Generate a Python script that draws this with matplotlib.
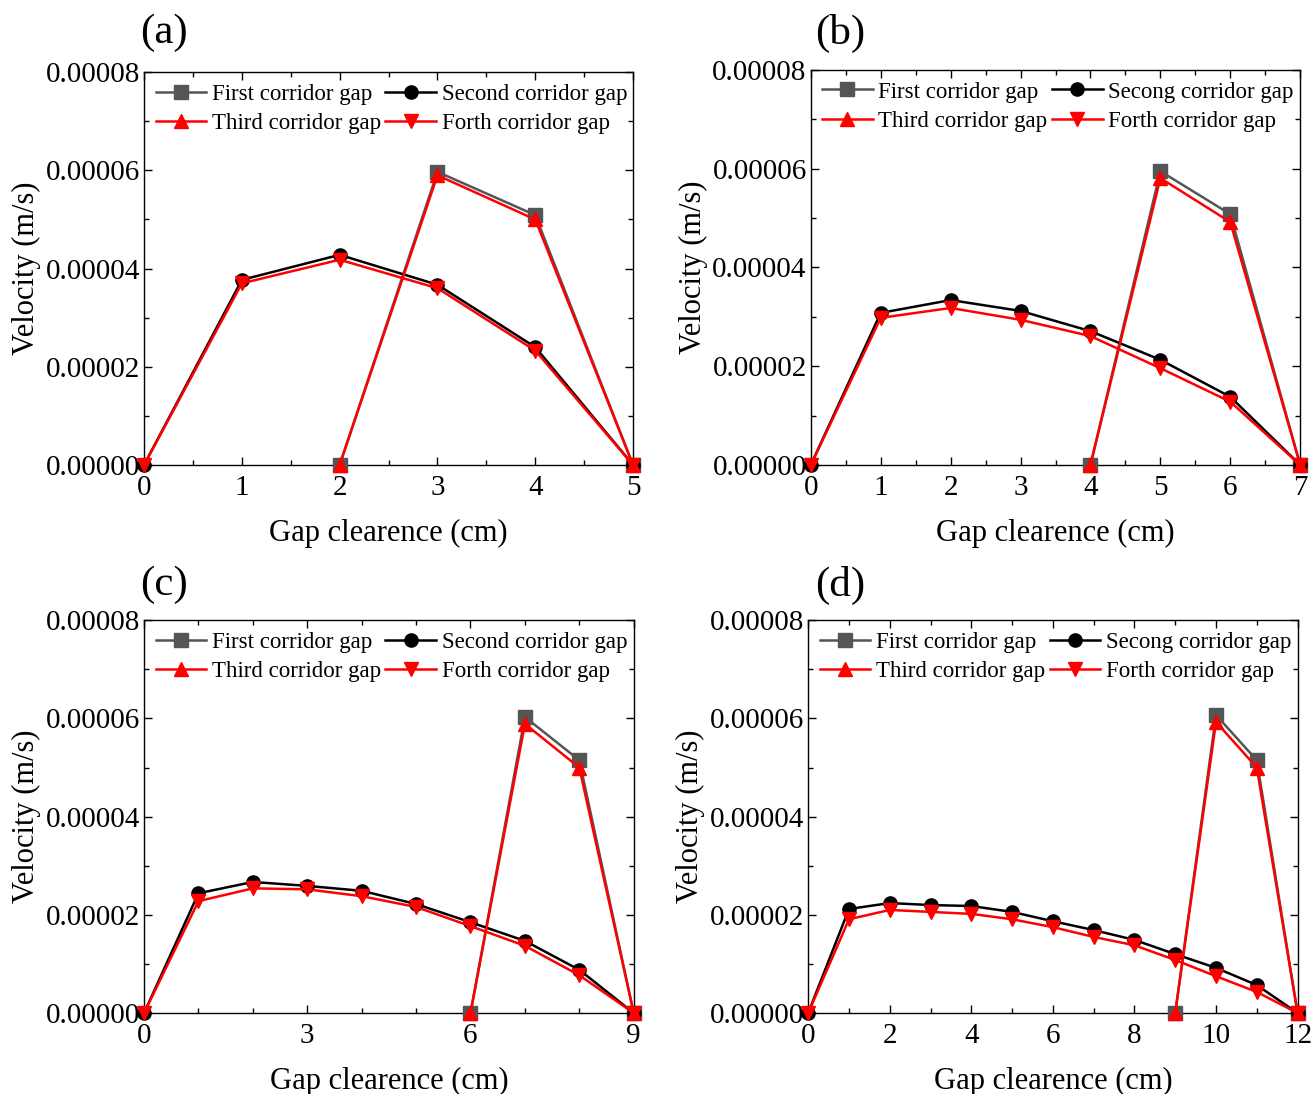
import numpy as np
import matplotlib
matplotlib.use('Agg')
import matplotlib.pyplot as plt
from matplotlib.ticker import MultipleLocator, FormatStrFormatter

plt.rcParams['font.family'] = ['Liberation Serif', 'DejaVu Serif']
plt.rcParams['mathtext.fontset'] = 'stix'

E = 1e-5
# ---------- data (units of 1e-5 m/s) ----------
# (a)
a_x_long = [0, 1, 2, 3, 4, 5]
a_second = [0, 3.77, 4.28, 3.67, 2.40, 0]
a_forth = [0, 3.70, 4.18, 3.60, 2.33, 0]
a_x_short = [2, 3, 4, 5]
a_first = [0, 5.97, 5.09, 0]
a_third = [0, 5.90, 5.00, 0]
# (b)
b_x_long = [0, 1, 2, 3, 4, 5, 6, 7]
b_second = [0, 3.08, 3.34, 3.12, 2.71, 2.13, 1.38, 0]
b_forth = [0, 2.98, 3.18, 2.94, 2.61, 1.96, 1.28, 0]
b_x_short = [4, 5, 6, 7]
b_first = [0, 5.95, 5.08, 0]
b_third = [0, 5.81, 4.92, 0]
# (c)
c_x_long = [0, 1, 2, 3, 4, 5, 6, 7, 8, 9]
c_second = [0, 2.44, 2.67, 2.59, 2.49, 2.22, 1.85, 1.47, 0.88, 0]
c_forth = [0, 2.28, 2.54, 2.52, 2.38, 2.16, 1.77, 1.37, 0.77, 0]
c_x_short = [6, 7, 8, 9]
c_first = [0, 6.03, 5.15, 0]
c_third = [0, 5.89, 5.00, 0]
# (d)
d_x_long = [0, 1, 2, 3, 4, 5, 6, 7, 8, 9, 10, 11, 12]
d_second = [0, 2.12, 2.24, 2.20, 2.18, 2.06, 1.87, 1.69, 1.49, 1.20, 0.92, 0.57, 0]
d_forth = [0, 1.91, 2.10, 2.06, 2.02, 1.91, 1.75, 1.55, 1.38, 1.08, 0.75, 0.43, 0]
d_x_short = [9, 10, 11, 12]
d_first = [0, 6.07, 5.15, 0]
d_third = [0, 5.93, 5.00, 0]

panels = [
    ('(a)', a_x_long, a_second, a_forth, a_x_short, a_first, a_third, 5, 1, 0.5, 'Second corridor gap'),
    ('(b)', b_x_long, b_second, b_forth, b_x_short, b_first, b_third, 7, 1, 0.5, 'Secong corridor gap'),
    ('(c)', c_x_long, c_second, c_forth, c_x_short, c_first, c_third, 9, 3, 1, 'Second corridor gap'),
    ('(d)', d_x_long, d_second, d_forth, d_x_short, d_first, d_third, 12, 2, 1, 'Secong corridor gap'),
]
rects = [
    [0.1098, 0.575, 0.3727, 0.359],
    [0.618, 0.575, 0.373, 0.361],
    [0.1098, 0.074, 0.3732, 0.359],
    [0.616, 0.074, 0.373, 0.359],
]
lab_pos = [(164, 33), (840, 33), (164, 585), (840, 585)]

W, H = 1312, 1094
fig = plt.figure(figsize=(W/100, H/100), dpi=100)
for (name, xl, sec, fo, xs, fi, th, xmax, xmaj, xmin, seclab), r, lp in zip(panels, rects, lab_pos):
    ax = fig.add_axes(r)
    ms = 9.5; lw = 1.8
    h1, = ax.plot(xs, np.array(fi)*E, '-s', color='#555555', mfc='#555555', mec='#555555', ms=ms, lw=lw, label='First corridor gap', clip_on=False, zorder=3)
    h2, = ax.plot(xl, np.array(sec)*E, '-o', color='black', ms=ms, lw=lw, label=seclab, clip_on=False, zorder=3)
    h3, = ax.plot(xs, np.array(th)*E, '-^', color='red', ms=ms, lw=lw, label='Third corridor gap', clip_on=False, zorder=4)
    h4, = ax.plot(xl, np.array(fo)*E, '-v', color='red', ms=ms, lw=lw, label='Forth corridor gap', clip_on=False, zorder=4)
    ax.set_xlim(0, xmax)
    ax.set_ylim(0, 8e-5)
    ax.xaxis.set_major_locator(MultipleLocator(xmaj))
    ax.xaxis.set_minor_locator(MultipleLocator(xmin))
    ax.yaxis.set_major_locator(MultipleLocator(2e-5))
    ax.yaxis.set_minor_locator(MultipleLocator(1e-5))
    ax.yaxis.set_major_formatter(FormatStrFormatter('%.5f'))
    ax.tick_params(which='both', direction='in', top=True, right=True, labelsize=21)
    ax.tick_params(which='major', length=6, width=1)
    ax.tick_params(which='minor', length=3.5, width=1)
    ax.tick_params(axis='y', pad=3)
    ax.tick_params(axis='x', pad=7)
    for s in ax.spines.values():
        s.set_linewidth(1)
    ax.set_xlabel('Gap clearence (cm)', fontsize=22, labelpad=13)
    ax.set_ylabel('Velocity (m/s)', fontsize=22, labelpad=3)
    ax.legend(handles=[h1, h3, h2, h4], ncol=2, loc='upper left', frameon=False,
              fontsize=16.5, handlelength=2.2, handletextpad=0.25, columnspacing=0.2,
              borderaxespad=0.3, labelspacing=0.35, borderpad=0.2)
    fig.text(lp[0]/W, 1 - lp[1]/H, name, fontsize=31, ha='center', va='center')

fig.savefig('out.png', dpi=100)
